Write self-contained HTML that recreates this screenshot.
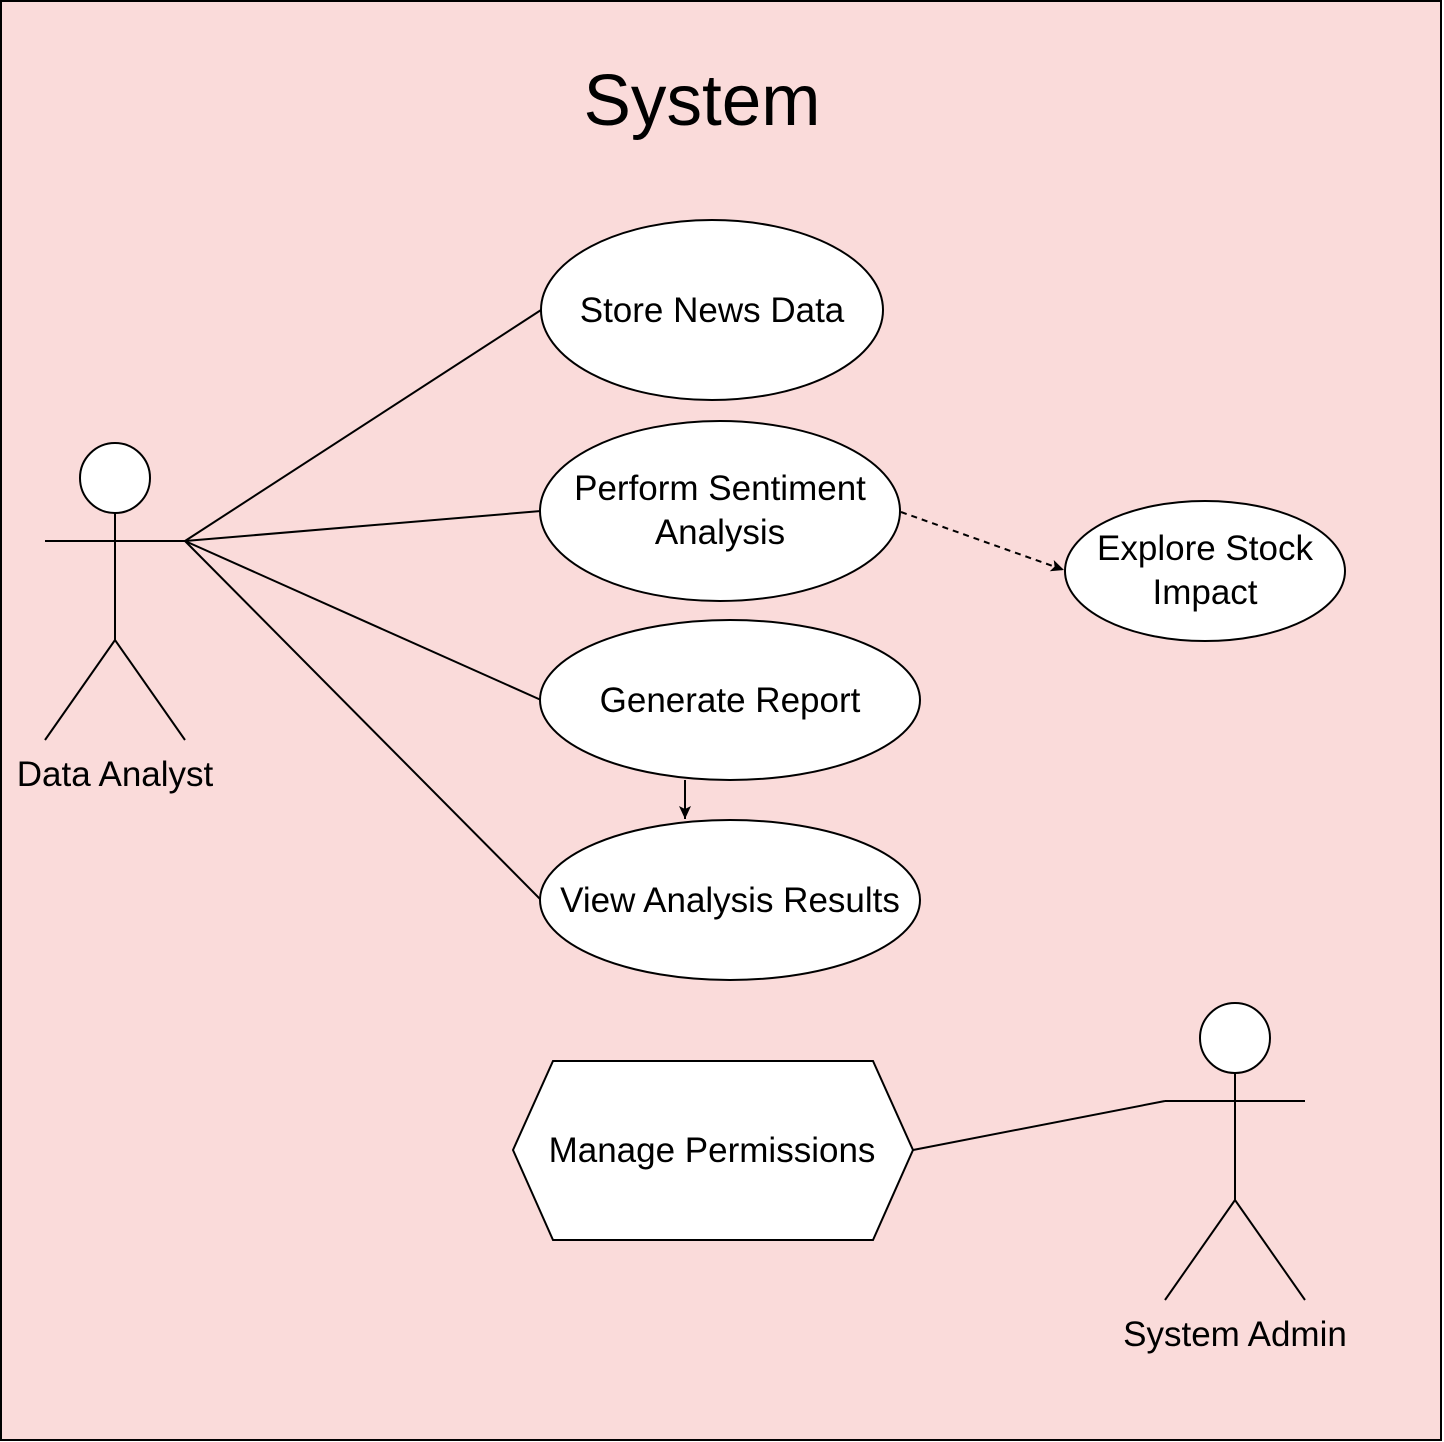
<!DOCTYPE html>
<html><head><style>body{margin:0;background:#fff}svg{display:block}</style></head><body>
<svg width="1444" height="1442" viewBox="0 0 1444 1442" xmlns="http://www.w3.org/2000/svg" font-family="Liberation Sans, Arial, sans-serif">
<defs>
<marker id="b" markerWidth="14" markerHeight="14" refX="13" refY="7" orient="auto" markerUnits="userSpaceOnUse"><path d="M0,1 L13,7 L0,13 L3,7 Z" fill="#000"/></marker>
</defs>
<rect x="1" y="1" width="1440" height="1439" fill="#fadbda" stroke="#000" stroke-width="2"/>
<text x="702" y="125" font-size="72" text-anchor="middle" textLength="237" lengthAdjust="spacingAndGlyphs">System</text>
<g stroke="#000" stroke-width="2" fill="none">
<line x1="185" y1="541" x2="541" y2="310"/>
<line x1="185" y1="541" x2="541" y2="511"/>
<line x1="185" y1="541" x2="541" y2="700"/>
<line x1="185" y1="541" x2="541" y2="900"/>
<line x1="913" y1="1150" x2="1165" y2="1101"/>
<line x1="901" y1="512" x2="1064" y2="570" stroke-dasharray="6,5" marker-end="url(#b)"/>
<line x1="685" y1="780" x2="685" y2="819" marker-end="url(#b)"/>
</g>
<g stroke="#000" stroke-width="2" fill="#fff">
<ellipse cx="712" cy="310" rx="171" ry="90"/>
<ellipse cx="720" cy="511" rx="180" ry="90"/>
<ellipse cx="1205" cy="571" rx="140" ry="70"/>
<ellipse cx="730" cy="700" rx="190" ry="80"/>
<ellipse cx="730" cy="900" rx="190" ry="80"/>
<polygon points="513,1150 553,1061 873,1061 913,1150 873,1240 553,1240"/>
<circle cx="115" cy="478" r="35"/>
<circle cx="1235" cy="1038" r="35"/>
</g>
<g stroke="#000" stroke-width="2" fill="none">
<line x1="45" y1="541" x2="185" y2="541"/><line x1="115" y1="513" x2="115" y2="640"/><polyline points="45,740 115,640 185,740"/>
<line x1="1165" y1="1101" x2="1305" y2="1101"/><line x1="1235" y1="1073" x2="1235" y2="1200"/><polyline points="1165,1300 1235,1200 1305,1300"/>
</g>
<g font-size="35" text-anchor="middle" fill="#000">
<text x="712" y="322">Store News Data</text>
<text x="720" y="500">Perform Sentiment</text>
<text x="720" y="544">Analysis</text>
<text x="1205" y="560">Explore Stock</text>
<text x="1205" y="604">Impact</text>
<text x="730" y="712">Generate Report</text>
<text x="730" y="912">View Analysis Results</text>
<text x="712" y="1162">Manage Permissions</text>
<text x="115" y="786">Data Analyst</text>
<text x="1235" y="1346">System Admin</text>
</g>
</svg>
</body></html>
